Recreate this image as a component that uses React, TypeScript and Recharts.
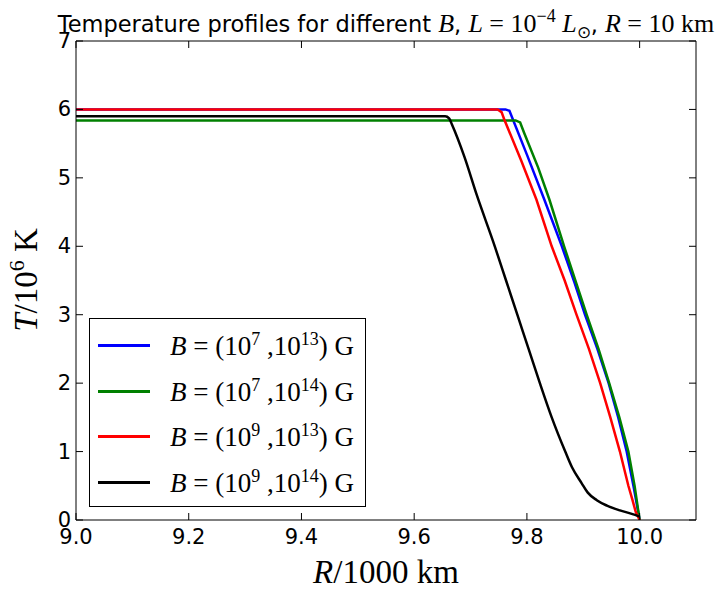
import { LineChart, Line, XAxis, YAxis, Legend } from 'recharts'

// radius in units of 1000 km, temperature in units of 10^6 K
const BLUE_R = [9.0, 9.762, 9.769, 9.80, 9.831, 9.862, 9.884, 9.903, 9.925, 9.945, 9.962, 9.977, 9.989, 10.0]
const BLUE_T = [6.0, 6.0, 5.98, 5.34, 4.68, 4.0, 3.48, 3.0, 2.5, 2.0, 1.5, 1.0, 0.5, 0.0]

const GREEN_R = [9.0, 9.78, 9.788, 9.795, 9.82, 9.840, 9.866, 9.888, 9.906, 9.927, 9.946, 9.964, 9.980, 9.991, 10.0]
const GREEN_T = [5.84, 5.84, 5.81, 5.66, 5.15, 4.68, 4.0, 3.45, 3.0, 2.5, 2.0, 1.5, 1.0, 0.5, 0.0]

const RED_R = [9.0, 9.748, 9.755, 9.760, 9.79, 9.817, 9.844, 9.867, 9.888, 9.910, 9.930, 9.948, 9.965, 9.980, 9.987, 9.993, 10.0]
const RED_T = [6.0, 6.0, 5.96, 5.85, 5.25, 4.68, 4.0, 3.5, 3.0, 2.5, 2.0, 1.5, 1.0, 0.5, 0.3, 0.12, 0.0]

const BLACK_R = [9.0, 9.655, 9.662, 9.667, 9.689, 9.711, 9.743, 9.763, 9.783, 9.803, 9.823, 9.844, 9.868, 9.880, 9.897, 9.908,
    9.924, 9.942, 9.965, 9.986, 10.0]
const BLACK_T = [5.90, 5.90, 5.87, 5.78, 5.31, 4.75, 4.0, 3.5, 3.0, 2.5, 2.0, 1.5, 1.0, 0.77, 0.54, 0.40,
    0.29, 0.21, 0.14, 0.09, 0.05]

const X_TICKS = [9.0, 9.2, 9.4, 9.6, 9.8, 10.0]
const Y_TICKS = [0, 1, 2, 3, 4, 5, 6, 7]

// legend exponents (B_low, B_high)
const LOW_EXP = ['7', '7', '9', '9']
const HIGH_EXP = ['13', '14', '13', '14']

const toPoints = (rs: number[], ts: number[]) => rs.map((r, i) => ({ r, t: ts[i] }))

const SERIES = [
    { name: 'b7-13', color: '#0000ff', curve: 'linear', data: toPoints(BLUE_R, BLUE_T), low: LOW_EXP[0], high: HIGH_EXP[0] },
    { name: 'b7-14', color: '#008000', curve: 'linear', data: toPoints(GREEN_R, GREEN_T), low: LOW_EXP[1], high: HIGH_EXP[1] },
    { name: 'b9-13', color: '#ff0000', curve: 'linear', data: toPoints(RED_R, RED_T), low: LOW_EXP[2], high: HIGH_EXP[2] },
    { name: 'b9-14', color: '#000000', curve: 'monotone', data: toPoints(BLACK_R, BLACK_T), low: LOW_EXP[3], high: HIGH_EXP[3] },
]

const TICK_LEN = 7
const SANS = 'DejaVu Sans'
const MATH = 'Liberation Serif'

const BottomTick = ({ x, y, payload }: any) => (
    <g>
        <line x1={x} x2={x} y1={y} y2={y - TICK_LEN} stroke="#000" />
        <text x={x} y={y + 24} textAnchor="middle" fontSize={21} fontFamily={SANS} fill="#000">
            {Number(payload.value).toFixed(1)}
        </text>
    </g>
)

const TopTick = ({ x, y }: any) => <line x1={x} x2={x} y1={y} y2={y + TICK_LEN} stroke="#000" />

const LeftTick = ({ x, y, payload }: any) => (
    <g>
        <line x1={x} x2={x + TICK_LEN} y1={y} y2={y} stroke="#000" />
        <text x={x - 5} y={y + 7} textAnchor="end" fontSize={21} fontFamily={SANS} fill="#000">
            {payload.value}
        </text>
    </g>
)

const RightTick = ({ x, y }: any) => <line x1={x} x2={x - TICK_LEN} y1={y} y2={y} stroke="#000" />

const renderLegend = () => (
    <div style={{ border: '1px solid #000', background: '#fff', width: 277, height: 189, boxSizing: 'border-box', paddingTop: 4 }}>
        {SERIES.map((s) => (
            <div key={s.name} style={{ display: 'flex', alignItems: 'center', height: 45.5 }}>
                <span style={{ marginLeft: 8, width: 52, borderTop: `3px solid ${s.color}` }} />
                <span style={{ marginLeft: 20, fontFamily: MATH, fontSize: 27, color: '#000', whiteSpace: 'nowrap' }}>
                    <i>B</i>
                    {' = (10'}
                    <sup style={{ fontSize: 18 }}>{s.low}</sup>
                    {' ,10'}
                    <sup style={{ fontSize: 18 }}>{s.high}</sup>
                    {') G'}
                </span>
            </div>
        ))}
    </div>
)

export default function App() {
    return (
        <div style={{ position: 'absolute', left: 0, top: 0, width: 719, height: 602, background: '#fff' }}>
            <LineChart width={719} height={602} margin={{ top: 40, right: 22, bottom: 81, left: 75 }}>
                <XAxis dataKey="r" type="number" domain={[9.0, 10.1]} ticks={X_TICKS} allowDataOverflow
                    height={1} tickSize={0} tickMargin={0} tickLine={false} tick={<BottomTick />}
                    axisLine={{ stroke: '#000' }} />
                <XAxis xAxisId="top" orientation="top" dataKey="r" type="number" domain={[9.0, 10.1]} ticks={X_TICKS}
                    allowDataOverflow height={1} tickSize={0} tickMargin={0} tickLine={false} tick={<TopTick />}
                    axisLine={{ stroke: '#000' }} />
                <YAxis type="number" domain={[0, 7]} ticks={Y_TICKS} allowDataOverflow width={1}
                    tickSize={0} tickMargin={0} tickLine={false} tick={<LeftTick />} axisLine={{ stroke: '#000' }} />
                <YAxis yAxisId="right" orientation="right" type="number" domain={[0, 7]} ticks={Y_TICKS}
                    allowDataOverflow width={1} tickSize={0} tickMargin={0} tickLine={false} tick={<RightTick />}
                    axisLine={{ stroke: '#000' }} />
                {SERIES.map((s) => (
                    <Line key={s.name} data={s.data} dataKey="t" name={s.name} type={s.curve as any} stroke={s.color}
                        strokeWidth={2.5} dot={false} isAnimationActive={false} />
                ))}
                <Legend layout="vertical" align="center" verticalAlign="middle" content={renderLegend}
                    wrapperStyle={{ left: 89, top: 318, width: 277, height: 189 }} />
            </LineChart>
            <svg width={719} height={602} style={{ position: 'absolute', left: 0, top: 0, pointerEvents: 'none' }}>
                {/* title */}
                <text x={386} y={32} textAnchor="middle" fontSize={22.5} fill="#000">
                    <tspan fontFamily={SANS}>Temperature profiles for different </tspan>
                    <tspan fontFamily={MATH} fontStyle="italic" fontSize={26}>B</tspan>
                    <tspan fontFamily={SANS}>, </tspan>
                    <tspan fontFamily={MATH} fontStyle="italic" fontSize={26}>L</tspan>
                    <tspan fontFamily={MATH} fontSize={26}>{' = 10'}</tspan>
                    <tspan fontFamily={MATH} fontSize={18} dy={-10}>−4</tspan>
                    <tspan fontFamily={MATH} fontStyle="italic" fontSize={26} dy={10}>{'  L'}</tspan>
                    <tspan fontFamily={MATH} fontSize={17} dy={6}>⊙</tspan>
                    <tspan fontFamily={SANS} dy={-6}>, </tspan>
                    <tspan fontFamily={MATH} fontStyle="italic" fontSize={26}>R</tspan>
                    <tspan fontFamily={MATH} fontSize={26}>{' = 10 km'}</tspan>
                </text>
                {/* x label */}
                <text x={386} y={583} textAnchor="middle" fontSize={33} fontFamily={MATH} fill="#000">
                    <tspan fontStyle="italic">R</tspan>
                    <tspan>/1000 km</tspan>
                </text>
                {/* y label */}
                <text x={0} y={0} transform="translate(37,280) rotate(-90)" textAnchor="middle" fontSize={33}
                    fontFamily={MATH} fill="#000">
                    <tspan fontStyle="italic">T</tspan>
                    <tspan>/10</tspan>
                    <tspan fontSize={22} dy={-13}>6</tspan>
                    <tspan dy={13}>{' K'}</tspan>
                </text>
            </svg>
        </div>
    )
}
